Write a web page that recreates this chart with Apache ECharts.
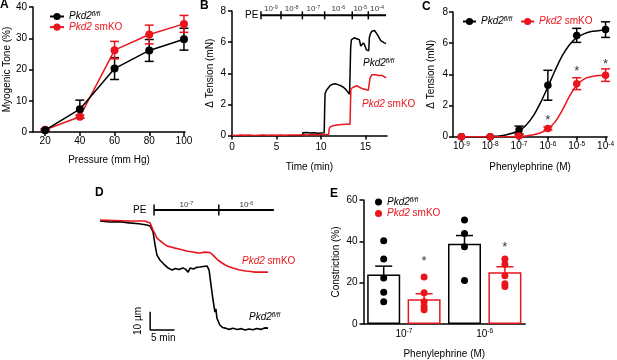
<!DOCTYPE html>
<html><head><meta charset="utf-8">
<script src="https://cdn.jsdelivr.net/npm/echarts@6/dist/echarts.min.js"></script>
<style>html,body{margin:0;padding:0;background:#fff}#c{width:617px;height:360px}</style>
</head><body><div id="c"></div>
<script>
// ---------------- DATA ----------------
// Panel A: myogenic tone vs pressure
const pressureA = [20, 40, 60, 80, 100];
const toneCtrlA = [0.6, 7.3, 20.3, 26.1, 29.7];
const toneCtrlErrA = [0.3, 2.9, 3.5, 3.5, 3.5];
const toneKOA = [0.7, 4.9, 26.2, 31.2, 34.6];
const toneKOErrA = [0.3, 0.5, 2.8, 3.0, 2.7];
const pressureTicksA = [20, 40, 60, 80, 100];

// Panel B: tension traces [time (min), tension (mN)]
const traceCtrlB = [[0,-0.05],[0.4,-0.03],[0.8,-0.06],[1.2,-0.04],[1.6,-0.07],[2.0,-0.04],[2.4,-0.06],[2.8,-0.03],[3.2,-0.05],[3.6,-0.04],[4.0,-0.06],[4.4,-0.03],[4.8,-0.05],[5.2,-0.04],[5.6,-0.02],[6.0,-0.04],[6.4,-0.03],[6.8,-0.05],[7.2,-0.02],[7.6,-0.03],[7.9,-0.02],[7.95,0.18],[8.1,0.25],[8.4,0.2],[8.8,0.16],[9.2,0.17],[9.6,0.14],[10.0,0.16],[10.35,0.17],[10.4,1.6],[10.45,2.7],[10.6,2.9],[10.8,3.05],[11.0,3.2],[11.3,3.3],[11.6,3.32],[11.9,3.27],[12.2,3.2],[12.5,3.1],[12.8,2.95],[13.0,2.8],[13.2,2.65],[13.28,2.6],[13.32,5.6],[13.4,6.15],[13.7,6.28],[14.0,6.22],[14.3,6.15],[14.45,5.75],[14.6,5.65],[14.75,5.95],[14.9,5.8],[15.1,5.5],[15.3,5.4],[15.35,5.45],[15.42,6.3],[15.55,6.55],[15.7,6.7],[15.85,6.6],[16.0,6.75],[16.15,6.65],[16.3,6.5],[16.5,6.3],[16.7,6.1],[16.9,6.05],[17.1,5.95],[17.3,5.9]];
const traceKOB = [[0,0.02],[0.5,0.0],[1.0,0.03],[1.5,0.01],[2.0,0.03],[2.5,0.0],[3.0,0.02],[3.5,0.04],[4.0,0.01],[4.5,0.03],[5.0,0.02],[5.5,0.04],[6.0,0.02],[6.5,0.03],[7.0,0.04],[7.5,0.03],[8.0,0.05],[8.5,0.04],[9.0,0.06],[9.5,0.05],[10.0,0.06],[10.5,0.07],[10.85,0.08],[10.9,0.4],[11.0,0.55],[11.3,0.62],[11.8,0.68],[12.3,0.7],[12.8,0.72],[13.25,0.72],[13.3,2.0],[13.35,3.0],[13.6,3.1],[14.0,3.2],[14.3,3.1],[14.7,3.0],[15.0,2.95],[15.3,2.9],[15.4,3.3],[15.5,3.7],[15.7,3.9],[15.9,3.95],[16.1,3.9],[16.3,3.8],[16.5,3.85],[16.7,3.8],[16.9,3.85],[17.1,3.75],[17.3,3.7]];
const timeTicksB = [0, 5, 10, 15];
const doseEdgesB = [3.25, 5.5, 7.9, 10.4, 13.5, 15.3, 17.3];
const doseExpB = ['-9', '-8', '-7', '-6', '-5', '-4'];
const doseLevelB = 7.72;

// Panel C: concentration-response (log10 M)
const logPEC = [-9, -8, -7, -6, -5, -4];
const tensionCtrlC = [0, 0, 0.43, 3.3, 6.5, 6.87];
const tensionCtrlErrC = [0, 0, 0.25, 0.96, 0.45, 0.5];
const tensionKOC = [0, 0, 0.05, 0.53, 3.4, 3.95];
const tensionKOErrC = [0, 0, 0.05, 0.1, 0.38, 0.4];
const fitLogC = [-9, -8.5, -8, -7.5, -7, -6.75, -6.5, -6.25, -6, -5.75, -5.5, -5.25, -5, -4.75, -4.5, -4.25, -4];
const fitCtrlC = [0, 0, 0.02, 0.1, 0.38, 0.75, 1.35, 2.2, 3.2, 4.25, 5.2, 5.9, 6.35, 6.6, 6.75, 6.8, 6.85];
const fitKOC = [0, 0, 0, 0, 0.02, 0.05, 0.12, 0.25, 0.5, 0.95, 1.7, 2.6, 3.3, 3.7, 3.85, 3.92, 3.95];
const starsC = [[-6, 1.02], [-5, 4.2], [-4, 4.65]];

// Panel D: diameter traces [time (min), change in diameter (µm)]
const traceCtrlD = [[0,0],[2,-0.5],[4,-0.3],[6,-1.0],[8,-1.5],[9.6,-2.2],[10.3,-2.7],[10.9,-6],[11.3,-13],[11.7,-18.6],[12.3,-21.3],[13.1,-23.5],[14.0,-25.7],[14.8,-26.8],[15.5,-25.9],[16.2,-26.5],[17.0,-25.6],[17.6,-26.4],[18.1,-27.9],[18.5,-25.7],[19.2,-26.2],[19.8,-25.3],[20.5,-25.1],[21.2,-24.8],[22.0,-24.6],[22.4,-26.8],[22.8,-35],[23.2,-43],[23.6,-49.7],[23.8,-48],[24.0,-53],[24.6,-56.8],[25.2,-58.2],[25.7,-58.5],[26.5,-59.2],[27.3,-58.6],[28.2,-59.3],[29.0,-58.8],[29.8,-59.5],[30.6,-59],[31.4,-59.4],[32.2,-58.7],[33.0,-59.2],[33.8,-58.4],[34.5,-58.5]];
const traceKOD = [[0,0.5],[3,0.3],[6,0],[9.2,0],[10.3,-1.1],[10.9,-4.9],[11.7,-9.3],[12.2,-10.5],[12.7,-11.5],[13.2,-12.6],[13.8,-13.7],[14.6,-14.2],[15.4,-14.8],[16.2,-15.3],[17.0,-15.8],[18.0,-16.5],[19.1,-16.9],[20.0,-17.4],[20.5,-17.5],[21.5,-17.0],[22.6,-17.2],[23.2,-18.6],[23.7,-20],[24.2,-21.3],[25.0,-22.8],[25.7,-24],[26.5,-25],[27.3,-25.7],[28.5,-26.6],[29.8,-27.3],[31.0,-27.6],[31.8,-27.9],[33.0,-27.9],[34.5,-27.9]];
const peEdgesD = [11.1, 24.4, 35.7];
const peExpD = ['-7', '-6'];
const peLevelD = 6.0;
const scaleBarD = [[10.3, -49.6], [10.3, -59.6], [15.3, -59.6]]; // 10 µm, 5 min

// Panel E: constriction (%)
const doseExpE = ['-7', '-6'];
const ctrlPtsE = [[40.3, 31.5, 22.3, 15.4, 10.8], [50.3, 43.8, 37.4, 21.1]];
const koPtsE = [[22.8, 15.1, 10.8, 8.5, 6.9], [31.5, 28.9, 23.4, 19.5, 18.1]];
const ctrlMeanE = [23.9, 38.8];
const ctrlSemE = [4.1, 4.0];
const koMeanE = [12.0, 25.1];
const koSemE = [2.6, 2.6];
const starsE = [30.3, 37.0];

// ---------------- STYLE ----------------
const FF = '"Liberation Sans", Arial, Helvetica, sans-serif';
const BLACK = '#000000';
const RED = '#e8161c';
const richTxt = {
  i: {fontFamily: FF, fontSize: 10, fontStyle: 'italic', color: BLACK, lineHeight: 11},
  s: {fontFamily: FF, fontSize: 6.5, fontStyle: 'italic', color: BLACK, lineHeight: 7, verticalAlign: 'top'},
  ir: {fontFamily: FF, fontSize: 10, fontStyle: 'italic', color: RED, lineHeight: 11},
  nr: {fontFamily: FF, fontSize: 10, color: RED, lineHeight: 11}
};
// same styles for raw graphic text (uses fill instead of color)
const richG = {};
for (const k in richTxt) { const o = Object.assign({}, richTxt[k]); o.fill = o.color; delete o.color; richG[k] = o; }
const ctrlTxt = '{i|Pkd2}{s|fl/fl}';
const koTxt = '{ir|Pkd2}{nr| smKO}';
const expRich = {
  b: {fontFamily: FF, fontSize: 10, color: BLACK, lineHeight: 12},
  e: {fontFamily: FF, fontSize: 6.5, color: BLACK, lineHeight: 7, verticalAlign: 'top'}
};
const expSmallRich = {
  b: {fontFamily: FF, fontSize: 8, color: BLACK, lineHeight: 9},
  e: {fontFamily: FF, fontSize: 5.5, color: BLACK, lineHeight: 6, verticalAlign: 'top'}
};

function axis(gi, extra) {
  const base = {
    gridIndex: gi, type: 'value',
    axisLine: {show: true, onZero: false, lineStyle: {color: BLACK, width: 1.5}},
    axisTick: {show: true, length: 4, lineStyle: {color: BLACK, width: 1.5}},
    axisLabel: {color: BLACK, fontSize: 10, fontFamily: FF, margin: 5},
    splitLine: {show: false},
    nameLocation: 'middle',
    nameTextStyle: {color: BLACK, fontSize: 10, fontFamily: FF}
  };
  for (const k in extra) {
    if (base[k] && typeof base[k] === 'object' && !Array.isArray(base[k])) base[k] = Object.assign({}, base[k], extra[k]);
    else base[k] = extra[k];
  }
  return base;
}

function makeErr(capHalf, both) {
  return function (params, api) {
    const x = api.value(0), y = api.value(1), e = api.value(2);
    const c = api.visual('color');
    const pTop = api.coord([x, y + e]);
    const pBot = api.coord([x, both ? y - e : y]);
    const st = {stroke: c, lineWidth: 1.5, fill: null};
    const ch = [
      {type: 'line', shape: {x1: pTop[0], y1: pTop[1], x2: pBot[0], y2: pBot[1]}, style: st},
      {type: 'line', shape: {x1: pTop[0] - capHalf, y1: pTop[1], x2: pTop[0] + capHalf, y2: pTop[1]}, style: st}
    ];
    if (both) ch.push({type: 'line', shape: {x1: pBot[0] - capHalf, y1: pBot[1], x2: pBot[0] + capHalf, y2: pBot[1]}, style: st});
    return {type: 'group', children: ch};
  };
}
function makeTick(half, lw) {
  return function (params, api) {
    const p = api.coord([api.value(0), api.value(1)]);
    return {type: 'line', shape: {x1: p[0], y1: p[1] - half, x2: p[0], y2: p[1] + half}, style: {stroke: BLACK, lineWidth: lw}};
  };
}
const zip = (xs, ys) => xs.map((x, i) => [x, ys[i]]);
const zip3 = (xs, ys, es) => xs.map((x, i) => [x, ys[i], es[i]]);
const mids = edges => edges.slice(0, -1).map((e, i) => (e + edges[i + 1]) / 2);

// E positions: group g, genotype k -> x = 2g + k + 1
const posE = (g, k) => 2 * g + k + 1;
const barDataE = [];
const dotsCtrlE = [], dotsKOE = [], starDataE = [];
doseExpE.forEach((d, g) => {
  barDataE.push({value: [posE(g, 0), ctrlMeanE[g]], itemStyle: {borderColor: BLACK}});
  barDataE.push({value: [posE(g, 1), koMeanE[g]], itemStyle: {borderColor: RED}});
  ctrlPtsE[g].forEach(v => dotsCtrlE.push([posE(g, 0), v]));
  koPtsE[g].forEach(v => dotsKOE.push([posE(g, 1), v]));
  starDataE.push([posE(g, 1), starsE[g]]);
});

const legendFmt = name => name.indexOf('ctrl') >= 0 ? ctrlTxt : koTxt;
const starLabel = {show: true, position: 'inside', formatter: '*', fontSize: 13, color: BLACK, fontFamily: FF};

const option = {
  animation: false,
  backgroundColor: '#fff',
  textStyle: {fontFamily: FF},
  grid: [
    {left: 33, top: 7, width: 152, height: 125},
    {left: 232, top: 11, width: 155, height: 124.5},
    {left: 453, top: 12, width: 155, height: 124.7},
    {left: 100, top: 200, width: 180, height: 140},
    {left: 363.5, top: 200, width: 161.6, height: 130}
  ],
  xAxis: [
    axis(0, {min: 13, max: 100.6, name: 'Pressure (mm Hg)', nameGap: 23,
      axisTick: {customValues: pressureTicksA}, axisLabel: {customValues: pressureTicksA, margin: 4}}),
    axis(1, {min: 0, max: 17.4, name: 'Time (min)', nameGap: 27,
      axisTick: {customValues: timeTicksB}, axisLabel: {customValues: timeTicksB, margin: 7}}),
    axis(2, {min: -9.29, max: -3.945, name: 'Phenylephrine (M)', nameGap: 26,
      axisTick: {customValues: logPEC}, axisLabel: {customValues: logPEC, margin: 4,
        formatter: v => '{b|10}{e|' + Math.round(v) + '}', rich: expRich}}),
    axis(3, {min: 0, max: 36.96, show: false}),
    axis(4, {min: 0.5, max: 4.5, name: 'Phenylephrine (M)', nameGap: 25,
      axisTick: {show: false},
      axisLabel: {customValues: doseExpE.map((d, g) => 2 * g + 1.5), margin: 4,
        formatter: v => '{b|10}{e|' + doseExpE[Math.round((v - 1.5) / 2)] + '}', rich: expRich}})
  ],
  yAxis: [
    axis(0, {min: 0, max: 40, interval: 10, name: 'Myogenic Tone (%)', nameGap: 21, axisLabel: {margin: 6}}),
    axis(1, {min: 0, max: 8, interval: 2, name: '\u0394 Tension (mN)', nameGap: 17, axisLabel: {margin: 6}}),
    axis(2, {min: 0, max: 8, interval: 2, name: '\u0394 Tension (mN)', nameGap: 17, axisLabel: {margin: 5}}),
    axis(3, {min: -65, max: 11.5, show: false}),
    axis(4, {min: 0, max: 60, interval: 20, name: 'Constriction (%)', nameGap: 22, axisLabel: {margin: 6}})
  ],
  legend: [
    {left: 44, top: 6, orient: 'vertical', itemGap: 0.6, itemWidth: 14, itemHeight: 9,
      data: ['A_ctrl', 'A_ko'], formatter: legendFmt, textStyle: {rich: richTxt}, selectedMode: false},
    {left: 457, top: 11, orient: 'horizontal', itemGap: 8, itemWidth: 13, itemHeight: 9,
      data: ['C_ctrl', 'C_ko'], formatter: legendFmt, textStyle: {rich: richTxt}, selectedMode: false},
    {left: 370, top: 191.5, orient: 'vertical', itemGap: 1.5, itemWidth: 7, itemHeight: 7, icon: 'circle',
      data: ['E_ctrl', 'E_ko'], formatter: legendFmt, textStyle: {rich: richTxt}, selectedMode: false}
  ],
  series: [
    // ---- A ----
    {type: 'custom', name: 'A_ctrl_err', xAxisIndex: 0, yAxisIndex: 0, itemStyle: {color: BLACK},
      renderItem: makeErr(4.5, true), data: zip3(pressureA, toneCtrlA, toneCtrlErrA), encode: {x: 0, y: 1}, z: 2, clip: false},
    {type: 'custom', name: 'A_ko_err', xAxisIndex: 0, yAxisIndex: 0, itemStyle: {color: RED},
      renderItem: makeErr(4.5, true), data: zip3(pressureA, toneKOA, toneKOErrA), encode: {x: 0, y: 1}, z: 2, clip: false},
    {type: 'line', name: 'A_ctrl', xAxisIndex: 0, yAxisIndex: 0, data: zip(pressureA, toneCtrlA),
      symbol: 'circle', symbolSize: 8, color: BLACK, lineStyle: {width: 1.5, color: BLACK}, itemStyle: {color: BLACK}, z: 4},
    {type: 'line', name: 'A_ko', xAxisIndex: 0, yAxisIndex: 0, data: zip(pressureA, toneKOA),
      symbol: 'circle', symbolSize: 8, color: RED, lineStyle: {width: 1.5, color: RED}, itemStyle: {color: RED}, z: 3},
    // ---- B ----
    {type: 'line', name: 'B_ctrl', xAxisIndex: 1, yAxisIndex: 1, data: traceCtrlB, showSymbol: false, symbol: 'none',
      lineStyle: {width: 1.5, color: BLACK}, color: BLACK, z: 3},
    {type: 'line', name: 'B_ko', xAxisIndex: 1, yAxisIndex: 1, data: traceKOB, showSymbol: false, symbol: 'none',
      lineStyle: {width: 1.5, color: RED}, color: RED, z: 4},
    {type: 'line', name: 'B_dosebar', xAxisIndex: 1, yAxisIndex: 1,
      data: [[doseEdgesB[0], doseLevelB], [doseEdgesB[doseEdgesB.length - 1], doseLevelB]],
      symbol: 'none', lineStyle: {width: 2, color: BLACK}, color: BLACK},
    {type: 'custom', name: 'B_doseticks', xAxisIndex: 1, yAxisIndex: 1, renderItem: makeTick(4, 1.5),
      data: doseEdgesB.slice(0, -1).map(t => [t, doseLevelB]), encode: {x: 0, y: 1}, clip: false},
    {type: 'scatter', name: 'B_doselabels', xAxisIndex: 1, yAxisIndex: 1, symbolSize: 0, clip: false,
      data: mids(doseEdgesB).map(t => [t, doseLevelB]),
      label: {show: true, position: 'top', distance: 2,
        formatter: p => '{b|10}{e|' + doseExpB[p.dataIndex] + '}', rich: expSmallRich}},
    // ---- C ----
    {type: 'line', name: 'C_ctrl', xAxisIndex: 2, yAxisIndex: 2, data: zip(fitLogC, fitCtrlC), smooth: 0.3,
      symbol: 'circle', showSymbol: false, symbolSize: 8, lineStyle: {width: 1.5, color: BLACK}, color: BLACK, itemStyle: {color: BLACK}, z: 2},
    {type: 'line', name: 'C_ko', xAxisIndex: 2, yAxisIndex: 2, data: zip(fitLogC, fitKOC), smooth: 0.3,
      symbol: 'circle', showSymbol: false, symbolSize: 8, lineStyle: {width: 1.5, color: RED}, color: RED, itemStyle: {color: RED}, z: 2},
    {type: 'custom', name: 'C_ctrl_err', xAxisIndex: 2, yAxisIndex: 2, itemStyle: {color: BLACK},
      renderItem: makeErr(4.5, true), data: zip3(logPEC, tensionCtrlC, tensionCtrlErrC), encode: {x: 0, y: 1}, z: 3, clip: false},
    {type: 'custom', name: 'C_ko_err', xAxisIndex: 2, yAxisIndex: 2, itemStyle: {color: RED},
      renderItem: makeErr(4.5, true), data: zip3(logPEC, tensionKOC, tensionKOErrC), encode: {x: 0, y: 1}, z: 3, clip: false},
    {type: 'scatter', name: 'C_ctrl_pts', xAxisIndex: 2, yAxisIndex: 2, data: zip(logPEC, tensionCtrlC),
      symbolSize: 7.5, itemStyle: {color: BLACK, opacity: 1}, z: 4, clip: false},
    {type: 'scatter', name: 'C_ko_pts', xAxisIndex: 2, yAxisIndex: 2, data: zip(logPEC, tensionKOC),
      symbolSize: 7.5, itemStyle: {color: RED, opacity: 1}, z: 5, clip: false},
    {type: 'scatter', name: 'C_stars', xAxisIndex: 2, yAxisIndex: 2, data: starsC, symbolSize: 0, clip: false, label: starLabel},
    // ---- D ----
    {type: 'line', name: 'D_ctrl', xAxisIndex: 3, yAxisIndex: 3, data: traceCtrlD, symbol: 'none',
      lineStyle: {width: 1.6, color: BLACK}, color: BLACK, z: 3},
    {type: 'line', name: 'D_ko', xAxisIndex: 3, yAxisIndex: 3, data: traceKOD, symbol: 'none',
      lineStyle: {width: 1.6, color: RED}, color: RED, z: 4},
    {type: 'line', name: 'D_pebar', xAxisIndex: 3, yAxisIndex: 3,
      data: [[peEdgesD[0], peLevelD], [peEdgesD[peEdgesD.length - 1], peLevelD]],
      symbol: 'none', lineStyle: {width: 2, color: BLACK}, color: BLACK},
    {type: 'custom', name: 'D_peticks', xAxisIndex: 3, yAxisIndex: 3, renderItem: makeTick(5.5, 1.5),
      data: peEdgesD.slice(0, -1).map(t => [t, peLevelD]), encode: {x: 0, y: 1}, clip: false},
    {type: 'scatter', name: 'D_pelabels', xAxisIndex: 3, yAxisIndex: 3, symbolSize: 0, clip: false,
      data: mids(peEdgesD).map(t => [t, peLevelD]),
      label: {show: true, position: 'top', distance: 1,
        formatter: p => '{b|10}{e|' + peExpD[p.dataIndex] + '}', rich: expSmallRich}},
    {type: 'line', name: 'D_scalebar', xAxisIndex: 3, yAxisIndex: 3, data: scaleBarD, symbol: 'none',
      lineStyle: {width: 1.5, color: BLACK}, color: BLACK},
    // ---- E ----
    {type: 'bar', name: 'E_bars', xAxisIndex: 4, yAxisIndex: 4, data: barDataE, barWidth: 33,
      itemStyle: {color: 'rgba(255,255,255,0)', borderWidth: 1.5}, z: 2},
    {type: 'custom', name: 'E_ctrl_err', xAxisIndex: 4, yAxisIndex: 4, itemStyle: {color: BLACK},
      renderItem: makeErr(8.5, false), data: doseExpE.map((d, g) => [posE(g, 0), ctrlMeanE[g], ctrlSemE[g]]), encode: {x: 0, y: 1}, z: 3, clip: false},
    {type: 'custom', name: 'E_ko_err', xAxisIndex: 4, yAxisIndex: 4, itemStyle: {color: RED},
      renderItem: makeErr(8.5, false), data: doseExpE.map((d, g) => [posE(g, 1), koMeanE[g], koSemE[g]]), encode: {x: 0, y: 1}, z: 3, clip: false},
    {type: 'scatter', name: 'E_ctrl', xAxisIndex: 4, yAxisIndex: 4, data: dotsCtrlE, symbolSize: 7,
      itemStyle: {color: BLACK, opacity: 1}, z: 4, clip: false},
    {type: 'scatter', name: 'E_ko', xAxisIndex: 4, yAxisIndex: 4, data: dotsKOE, symbolSize: 7,
      itemStyle: {color: RED, opacity: 1}, z: 4, clip: false},
    {type: 'scatter', name: 'E_stars', xAxisIndex: 4, yAxisIndex: 4, data: starDataE, symbolSize: 0, clip: false, label: starLabel}
  ],
  graphic: [
    {type: 'text', x: 0, y: 5, style: {text: 'A', font: 'bold 12px ' + FF, fill: BLACK, verticalAlign: 'middle'}},
    {type: 'text', x: 200, y: 6, style: {text: 'B', font: 'bold 12px ' + FF, fill: BLACK, verticalAlign: 'middle'}},
    {type: 'text', x: 422, y: 7, style: {text: 'C', font: 'bold 12px ' + FF, fill: BLACK, verticalAlign: 'middle'}},
    {type: 'text', x: 95, y: 192.5, style: {text: 'D', font: 'bold 12px ' + FF, fill: BLACK, verticalAlign: 'middle'}},
    {type: 'text', x: 330, y: 193.5, style: {text: 'E', font: 'bold 12px ' + FF, fill: BLACK, verticalAlign: 'middle'}},
    {type: 'text', x: 245, y: 15.5, style: {text: 'PE', font: '10px ' + FF, fill: BLACK, verticalAlign: 'middle'}},
    {type: 'text', x: 133, y: 210, style: {text: 'PE', font: '10px ' + FF, fill: BLACK, verticalAlign: 'middle'}},
    {type: 'text', x: 363, y: 63, style: {text: ctrlTxt, rich: richG, verticalAlign: 'middle'}},
    {type: 'text', x: 362, y: 104, style: {text: koTxt, rich: richG, verticalAlign: 'middle'}},
    {type: 'text', x: 242, y: 261, style: {text: koTxt, rich: richG, verticalAlign: 'middle'}},
    {type: 'text', x: 249, y: 317, style: {text: ctrlTxt, rich: richG, verticalAlign: 'middle'}},
    {type: 'text', x: 138.5, y: 321, rotation: Math.PI / 2,
      style: {text: '10 \u00b5m', font: '10px ' + FF, fill: BLACK, align: 'center', verticalAlign: 'middle'}},
    {type: 'text', x: 151, y: 338, style: {text: '5 min', font: '10px ' + FF, fill: BLACK, verticalAlign: 'middle'}}
  ]
};
const chart = echarts.init(document.getElementById('c'), null, {renderer: 'canvas'});
chart.setOption(option);
</script>
</body></html>
